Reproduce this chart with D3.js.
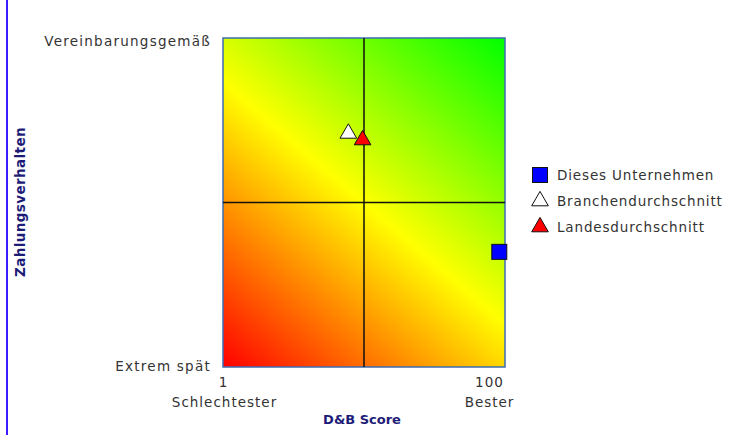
<!DOCTYPE html>
<html><head><meta charset="utf-8">
<script src="https://cdn.jsdelivr.net/npm/d3@7"></script>
<style>
html,body{margin:0;padding:0;background:#fff;}
svg{display:block;}
text{font-family:"DejaVu Sans",sans-serif;}
</style></head>
<body>
<script>
// Data
const seriesNames = ["Dieses Unternehmen", "Branchendurchschnitt", "Landesdurchschnitt"];
const seriesScore = [98, 45, 50];          // D&B Score (x)
const seriesPayment = [35, 71, 69];        // Zahlungsverhalten (y, 0 = extrem spät, 100 = vereinbarungsgemäß)
const seriesShape = ["square", "triangle", "triangle"];
const seriesColor = ["#0000ff", "#ffffff", "#ff0000"];
const xTickValues = [1, 100];
const xTickLabels = ["1", "100"];
const xTickSubLabels = ["Schlechtester", "Bester"];
const yTickValues = [0, 100];
const yTickLabels = ["Extrem spät", "Vereinbarungsgemäß"];
const xTitle = "D&B Score";
const yTitle = "Zahlungsverhalten";

const W = 754, H = 435;
const m = {left: 223, right: 505, top: 38, bottom: 367};

const svg = d3.select("body").append("svg").attr("width", W).attr("height", H);

// left blue rule
svg.append("line").attr("x1", 7).attr("x2", 7).attr("y1", 0).attr("y2", H)
  .attr("stroke", "#3a1cff").attr("stroke-width", 2);

const x = d3.scaleLinear().domain([1, 100]).range([m.left, m.right]);
const y = d3.scaleLinear().domain([0, 100]).range([m.bottom, m.top]);

// gradient
const defs = svg.append("defs");
const grad = defs.append("linearGradient").attr("id", "bg")
  .attr("gradientUnits", "userSpaceOnUse")
  .attr("x1", x(1)).attr("y1", y(0)).attr("x2", x(100)).attr("y2", y(100));
[[0, "#ff0000"], [0.5, "#ffff00"], [1, "#00ff00"]].forEach(s =>
  grad.append("stop").attr("offset", s[0]).attr("stop-color", s[1]));

svg.append("rect").attr("x", x(1)).attr("y", y(100))
  .attr("width", x(100) - x(1)).attr("height", y(0) - y(100))
  .attr("fill", "url(#bg)").attr("stroke", "#3d6cb0").attr("stroke-width", 1.5);

// quadrant lines
svg.append("line").attr("x1", x(50.5)).attr("x2", x(50.5)).attr("y1", y(100)).attr("y2", y(0))
  .attr("stroke", "#111").attr("stroke-width", 1.5);
svg.append("line").attr("x1", x(1)).attr("x2", x(100)).attr("y1", y(50)).attr("y2", y(50))
  .attr("stroke", "#111").attr("stroke-width", 1.5);

// Axes
const yAxis = d3.axisLeft(y).tickValues(yTickValues).tickSize(0).tickPadding(12)
  .tickFormat((d, i) => yTickLabels[i]);
const gy = svg.append("g").attr("transform", `translate(${m.left},0)`).call(yAxis);
gy.select(".domain").remove();
gy.selectAll("text").attr("font-size", 13.5).attr("fill", "#333")
  .attr("font-family", "DejaVu Sans, sans-serif").attr("letter-spacing", 1.25);
gy.selectAll(".tick").filter(d => d === 100).select("text").attr("dy", "0.55em");
gy.selectAll(".tick").filter(d => d === 0).select("text").attr("dy", "0.25em");

const xAxis = d3.axisBottom(x).tickValues(xTickValues).tickSize(0).tickPadding(10)
  .tickFormat((d, i) => xTickLabels[i]);
const gx = svg.append("g").attr("transform", `translate(0,${m.bottom})`).call(xAxis);
gx.select(".domain").remove();
gx.selectAll(".tick text").attr("font-size", 13.5).attr("fill", "#333")
  .attr("font-family", "DejaVu Sans, sans-serif").attr("letter-spacing", 1);
gx.selectAll(".tick").each(function(d, i) {
  const t = d3.select(this);
  const dx = i === xTickValues.length - 1 ? -16 : 0;
  t.select("text").attr("dx", dx);
  t.append("text").attr("y", 40).attr("dx", dx + (i === 0 ? 1 : 0)).attr("text-anchor", "middle")
    .attr("font-size", 13.5).attr("fill", "#333").attr("letter-spacing", 1)
    .text(xTickSubLabels[i]);
});

// Titles
svg.append("text").attr("x", 362).attr("y", 424).attr("text-anchor", "middle")
  .attr("font-size", 13).attr("font-weight", "bold").attr("fill", "#1c1c78")
  .text(xTitle);
svg.append("text").attr("transform", `translate(25,202) rotate(-90)`).attr("text-anchor", "middle")
  .attr("font-size", 13.5).attr("font-weight", "bold").attr("fill", "#1c1c78")
  .attr("letter-spacing", 0.4)
  .text(yTitle);

// Markers
const tri = d3.symbol().type(d3.symbolTriangle).size(120);
function drawMarker(g, shape, color) {
  if (shape === "square") {
    g.append("rect").attr("x", -7.5).attr("y", -7.5).attr("width", 15).attr("height", 15)
      .attr("fill", color).attr("stroke", "#111").attr("stroke-width", 1);
  } else {
    g.append("path").attr("d", tri()).attr("fill", color)
      .attr("stroke", "#111").attr("stroke-width", 1);
  }
}
seriesNames.forEach((n, i) => {
  const g = svg.append("g").attr("transform", `translate(${x(seriesScore[i])},${y(seriesPayment[i])})`);
  drawMarker(g, seriesShape[i], seriesColor[i]);
});

// Legend
seriesNames.forEach((n, i) => {
  const ly = 175 + i * 26;
  const g = svg.append("g").attr("transform", `translate(540,${ly})`);
  drawMarker(g, seriesShape[i], seriesColor[i]);
  svg.append("text").attr("x", 557).attr("y", ly + 5).attr("font-size", 13.5)
    .attr("fill", "#333").attr("letter-spacing", 0.85).text(n);
});
</script>
</body></html>
